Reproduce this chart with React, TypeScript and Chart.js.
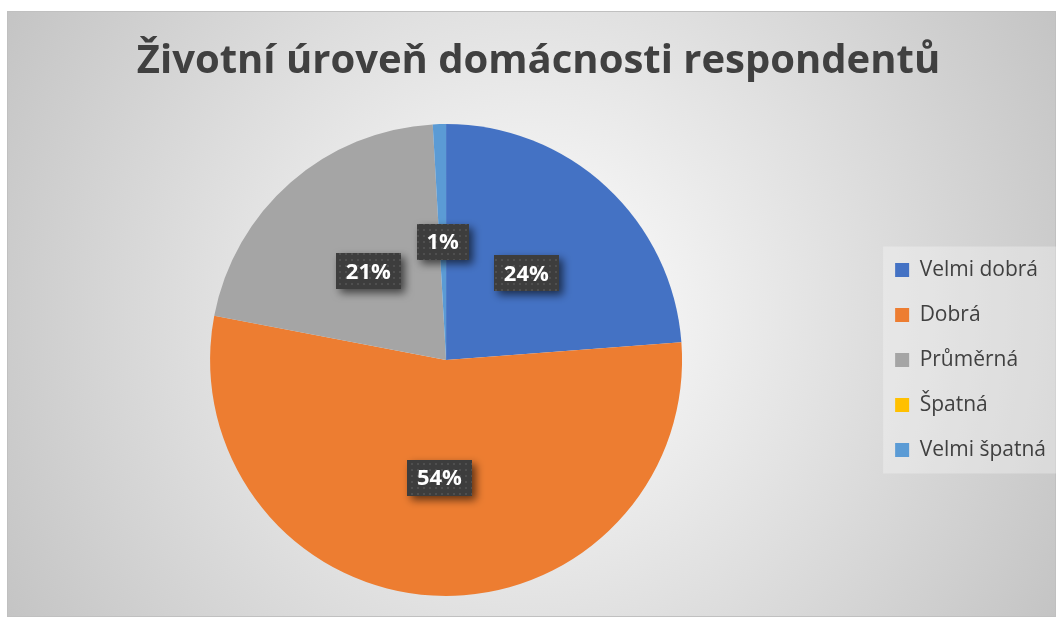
import React, { useEffect, useRef } from "react";
import { Chart, registerables } from "chart.js";

Chart.register(...registerables);

const TITLE = "Životní úroveň domácnosti respondentů";
const categories = ["Velmi dobrá", "Dobrá", "Průměrná", "Špatná", "Velmi špatná"];
const shares = [23.8, 54.2, 21.1, 0, 0.9];
const colors = ["#4472C4", "#ED7D31", "#A5A5A5", "#FFC000", "#5B9BD5"];

const VISIBLE_W = 1049;
const CANVAS_W = 1049;
const CANVAS_H = 606;
const FONT = "'Open Sans', sans-serif";

function makePattern(ctx: CanvasRenderingContext2D) {
  const c = document.createElement("canvas");
  c.width = 6;
  c.height = 6;
  const p = c.getContext("2d")!;
  p.fillStyle = "#3d3d3d";
  p.fillRect(0, 0, 6, 6);
  p.fillStyle = "#4f4f4f";
  p.fillRect(2, 2, 2, 2);
  return ctx.createPattern(c, "repeat");
}

const backgroundPlugin = {
  id: "bgPlugin",
  beforeDraw(chart: any) {
    const { ctx, height } = chart;
    const w = VISIBLE_W;
    ctx.save();
    const cx = w / 2;
    const cy = height / 2;
    const g = ctx.createRadialGradient(cx, cy, 0, cx, cy, Math.hypot(cx, cy));
    g.addColorStop(0, "#ffffff");
    g.addColorStop(1, "#c4c4c4");
    ctx.fillStyle = g;
    ctx.fillRect(0, 0, chart.width, height);
    ctx.strokeStyle = "#c0c0c0";
    ctx.lineWidth = 1;
    ctx.strokeRect(0.5, 0.5, w - 1, height - 1);
    const legend = chart.legend;
    if (legend && legend.legendHitBoxes && legend.legendHitBoxes.length) {
      const hb = legend.legendHitBoxes;
      let x0 = Infinity, y0 = Infinity, x1 = -Infinity, y1 = -Infinity;
      hb.forEach((b: any) => {
        x0 = Math.min(x0, b.left);
        y0 = Math.min(y0, b.top);
        x1 = Math.max(x1, b.left + b.width);
        y1 = Math.max(y1, b.top + b.height);
      });
      ctx.fillStyle = "rgba(255,255,255,0.3)";
      ctx.fillRect(x0 - 12, y0 - 13, x1 - x0 + 25, y1 - y0 + 26);
    }
    ctx.restore();
  },
};

const labelPlugin = {
  id: "labelPlugin",
  afterDatasetsDraw(chart: any) {
    const { ctx } = chart;
    const meta = chart.getDatasetMeta(0);
    const data = chart.data.datasets[0].data as number[];
    const total = data.reduce((a, b) => a + b, 0);
    const pattern = makePattern(ctx);
    ctx.save();
    ctx.font = `bold 22px ${FONT}`;
    meta.data.forEach((arc: any, i: number) => {
      const v = data[i];
      if (!v) return;
      const text = Math.round((v / total) * 100) + "%";
      const { x, y } = arc.tooltipPosition(false);
      const tw = ctx.measureText(text).width;
      const bw = tw + 20;
      const bh = 36;
      ctx.save();
      ctx.shadowColor = "rgba(0,0,0,0.6)";
      ctx.shadowBlur = 9;
      ctx.shadowOffsetX = 4;
      ctx.shadowOffsetY = 4;
      ctx.fillStyle = pattern || "#3d3d3d";
      ctx.fillRect(Math.round(x - bw / 2), Math.round(y - bh / 2), Math.round(bw), bh);
      ctx.restore();
      ctx.fillStyle = "#ffffff";
      ctx.textAlign = "center";
      ctx.textBaseline = "middle";
      ctx.fillText(text, x, y + 1);
    });
    ctx.restore();
  },
};

export default function App() {
  const ref = useRef<HTMLCanvasElement | null>(null);
  useEffect(() => {
    if (!ref.current) return;
    const chart = new Chart(ref.current, {
      type: "pie",
      data: {
        labels: categories,
        datasets: [
          {
            data: shares,
            backgroundColor: colors,
            borderWidth: 0,
          },
        ],
      },
      options: {
        animation: false,
        responsive: true,
        maintainAspectRatio: false,
        layout: { padding: { left: 14, right: 0, top: 0, bottom: 21 } },
        plugins: {
          title: {
            display: true,
            text: TITLE,
            color: "#404040",
            font: { family: FONT, size: 40, weight: "bold" },
            padding: { top: 27, bottom: 38 },
          },
          legend: {
            position: "right",
            fullSize: false,
            labels: {
              color: "#404040",
              font: { family: FONT, size: 21 },
              boxWidth: 14,
              boxHeight: 14,
              padding: 24,
            },
          },
          tooltip: { enabled: false },
        },
      },
      plugins: [backgroundPlugin, labelPlugin],
    });
    return () => chart.destroy();
  }, []);
  return (
    <div
      style={{
        position: "absolute",
        left: 7,
        top: 11,
        width: VISIBLE_W,
        height: CANVAS_H,
        overflow: "hidden",
      }}
    >
      <div style={{ position: "relative", width: CANVAS_W, height: CANVAS_H }}>
        <canvas ref={ref} />
      </div>
    </div>
  );
}
